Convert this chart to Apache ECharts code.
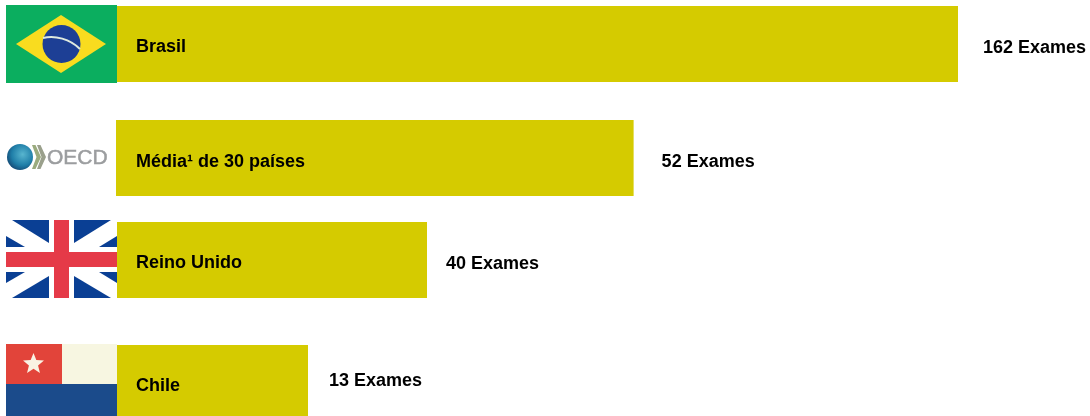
<!DOCTYPE html>
<html>
<head>
<meta charset="utf-8">
<style>html,body{margin:0;padding:0;background:#fff}#chart{width:1090px;height:416px}</style>
<script src="https://cdn.jsdelivr.net/npm/echarts@6/dist/echarts.min.js"></script>
</head>
<body>
<div id="chart"></div>
<script>
// Number of exams per country or group
const rowNames = ['Brasil', 'Média¹ de 30 países', 'Reino Unido', 'Chile'];
const examCounts = [162, 52, 40, 13];
const unitLabel = 'Exames';

// Row placement on the page
const rowLeft = [117, 116, 117, 117];
const rowTop = [6, 120, 222, 345];
const rowHeight = [76, 76, 76, 71];
const scaleWidth = [841, 842, 841, 841];
const valueGap = [25, 28, 19, 21];
const valueNudge = [4, 4, 4, 1];
const nameMargin = [19, 20, 19, 19];
// Line height of the names, which are top-aligned on the row centre: half of it is the drop below centre
const nameLineHeight = [7, 8, 6, 12];

// The bars are illustrative rather than proportional: each stretch between
// two counts is compressed by its own amount, so the axis is piecewise linear.
const scaleBreaks = [
  { start: 1, end: 12, gap: 7.55 },
  { start: 14, end: 39, gap: 3.95 },
  { start: 41, end: 51, gap: 8.35 },
  { start: 53, end: 161, gap: 14.2 }
];

const fontFamily = '"Liberation Sans", Arial, sans-serif';
const barColor = '#d5cb00';
const labelSize = 18;

// Flags and logo beside each row
function star(cx, cy, outer, inner) {
  const pts = [];
  for (let i = 0; i < 10; i++) {
    const r = i % 2 ? inner : outer;
    const a = -Math.PI / 2 + i * Math.PI / 5;
    pts.push([cx + r * Math.cos(a), cy + r * Math.sin(a)]);
  }
  return pts;
}
const poly = (points, fill) => ({ type: 'polygon', shape: { points }, style: { fill } });
const rect = (x, y, width, height, fill) => ({ type: 'rect', shape: { x, y, width, height }, style: { fill } });
const chevron = (x, fill) => poly([[x, 145], [x + 3.5, 145], [x + 9, 157], [x + 3.5, 169], [x, 169], [x + 4.5, 157]], fill);

const ukBlue = '#0a3f94', ukRed = '#e53a48';
const decorations = [
  // Brazil
  rect(6, 5, 111, 78, '#0bae5f'),
  poly([[16, 44], [61, 15], [106, 44], [61, 73]], '#f9dc1f'),
  { type: 'circle', shape: { cx: 61.5, cy: 44, r: 19 }, style: { fill: '#1d3f95' } },
  { type: 'bezierCurve', shape: { x1: 43, y1: 38, x2: 80, y2: 49, cpx1: 55, cpy1: 35, cpx2: 70, cpy2: 39 },
    style: { stroke: '#dfeadf', lineWidth: 2, fill: 'none' } },
  // OECD
  { type: 'circle', shape: { cx: 20, cy: 157, r: 13 }, style: {
    fill: { type: 'radial', x: 0.6, y: 0.4, r: 0.7, colorStops: [
      { offset: 0, color: '#58b5cf' }, { offset: 0.6, color: '#1f7ea8' }, { offset: 1, color: '#123f6b' }] } } },
  chevron(32, '#9aab7e'), chevron(37, '#9aa08c'),
  { type: 'text', style: { x: 47, y: 158, text: 'OECD', fill: '#9b9d9f', stroke: '#9b9d9f', lineWidth: 0.5, fontSize: 21, fontFamily, textVerticalAlign: 'middle', textAlign: 'left' } },
  // United Kingdom
  rect(6, 220, 111, 78, '#ffffff'),
  poly([[12, 220], [49, 220], [49, 243]], ukBlue), poly([[6, 236], [6, 247], [25, 247]], ukBlue),
  poly([[74, 220], [111, 220], [74, 243]], ukBlue), poly([[117, 236], [117, 247], [99, 247]], ukBlue),
  poly([[6, 272], [25, 272], [6, 283]], ukBlue), poly([[49, 276], [49, 298], [12, 298]], ukBlue),
  poly([[74, 276], [74, 298], [111, 298]], ukBlue), poly([[99, 272], [117, 272], [117, 283]], ukBlue),
  rect(54, 220, 15, 78, ukRed), rect(6, 252, 111, 15, ukRed),
  // Chile
  rect(6, 344, 56, 40, '#e2443a'), rect(62, 344, 55, 40, '#f7f6e1'), rect(6, 384, 111, 32, '#1b4b8b'),
  poly(star(33.5, 364, 11, 4.8), '#f9f3e3')
].map(el => Object.assign({ silent: true }, el));

const chart = echarts.init(document.getElementById('chart'), null, { renderer: 'canvas' });
chart.setOption({
  animation: false,
  backgroundColor: '#ffffff',
  grid: rowNames.map((_, i) => ({ left: rowLeft[i], top: rowTop[i], width: scaleWidth[i], height: rowHeight[i], containLabel: false })),
  xAxis: rowNames.map((_, i) => ({ gridIndex: i, type: 'value', show: false, min: 0, max: 162, breaks: scaleBreaks })),
  yAxis: rowNames.map((name, i) => ({
    gridIndex: i, type: 'category', data: [name],
    axisLine: { show: false }, axisTick: { show: false }, z: 10,
    axisLabel: { inside: true, margin: nameMargin[i], color: '#000', fontFamily, fontWeight: 'bold', fontSize: labelSize, verticalAlign: 'top', lineHeight: nameLineHeight[i] }
  })),
  series: rowNames.map((_, i) => ({
    type: 'bar', xAxisIndex: i, yAxisIndex: i, data: [examCounts[i]], barWidth: '100%', silent: true,
    itemStyle: { color: barColor },
    label: {
      show: true, position: 'right', distance: valueGap[i], offset: [0, valueNudge[i]],
      formatter: p => p.value + ' ' + unitLabel,
      color: '#000', fontFamily, fontWeight: 'bold', fontSize: labelSize
    }
  })),
  graphic: { elements: decorations }
});
</script>
</body>
</html>
